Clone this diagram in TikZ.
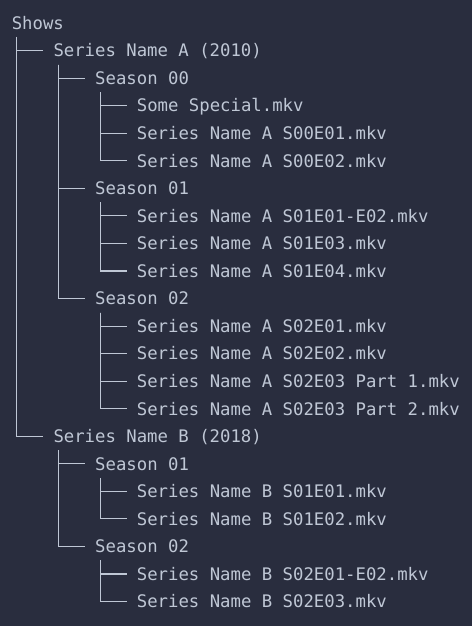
\documentclass[tikz,border=0pt]{standalone}
\usepackage{fontspec}
\setmonofont{DejaVu Sans Mono}
\usepackage{tikz}
\usetikzlibrary{positioning}

\definecolor{bgpanel}{HTML}{292D3E}
\definecolor{fgtext}{HTML}{BFC7D5}

\begin{document}
\begin{tikzpicture}[
x=41.7pt, y=-27.55pt,
entry/.style={anchor=west, inner sep=0pt, text height=20.1pt, text depth=7.5pt, font=\ttfamily\fontsize{17.3}{20}\selectfont, text=fgtext},
branch/.style={draw=fgtext, line width=1.1pt}
]

\fill[bgpanel] (0,0) rectangle (472pt,-626pt);

\begin{scope}[shift={(11.6pt,-23pt)}]
\node[entry] (shows) at (0,0) {Shows};
\node[entry] (seriesA) at (1,1) {Series Name A (2010)};
\node[entry] (aS00) at (2,2) {Season 00};
\node[entry] (aS00sp) at (3,3) {Some Special.mkv};
\node[entry] (aS00e01) at (3,4) {Series Name A S00E01.mkv};
\node[entry] (aS00e02) at (3,5) {Series Name A S00E02.mkv};
\node[entry] (aS01) at (2,6) {Season 01};
\node[entry] (aS01e01) at (3,7) {Series Name A S01E01-E02.mkv};
\node[entry] (aS01e03) at (3,8) {Series Name A S01E03.mkv};
\node[entry] (aS01e04) at (3,9) {Series Name A S01E04.mkv};
\node[entry] (aS02) at (2,10) {Season 02};
\node[entry] (aS02e01) at (3,11) {Series Name A S02E01.mkv};
\node[entry] (aS02e02) at (3,12) {Series Name A S02E02.mkv};
\node[entry] (aS02p1) at (3,13) {Series Name A S02E03 Part 1.mkv};
\node[entry] (aS02p2) at (3,14) {Series Name A S02E03 Part 2.mkv};
\node[entry] (seriesB) at (1,15) {Series Name B (2018)};
\node[entry] (bS01) at (2,16) {Season 01};
\node[entry] (bS01e01) at (3,17) {Series Name B S01E01.mkv};
\node[entry] (bS01e02) at (3,18) {Series Name B S01E02.mkv};
\node[entry] (bS02) at (2,19) {Season 02};
\node[entry] (bS02e01) at (3,20) {Series Name B S02E01-E02.mkv};
\node[entry] (bS02e03) at (3,21) {Series Name B S02E03.mkv};
\end{scope}

% tree branches
\foreach \p/\c in {shows/seriesA, shows/seriesB,
    seriesA/aS00, seriesA/aS01, seriesA/aS02,
    aS00/aS00sp, aS00/aS00e01, aS00/aS00e02,
    aS01/aS01e01, aS01/aS01e03, aS01/aS01e04,
    aS02/aS02e01, aS02/aS02e02, aS02/aS02p1, aS02/aS02p2,
    seriesB/bS01, seriesB/bS02,
    bS01/bS01e01, bS01/bS01e02,
    bS02/bS02e01, bS02/bS02e03}
  \draw[branch] ([xshift=5.1pt]\p.south west) |- ([xshift=-10pt]\c.west);

\end{tikzpicture}
\end{document}
